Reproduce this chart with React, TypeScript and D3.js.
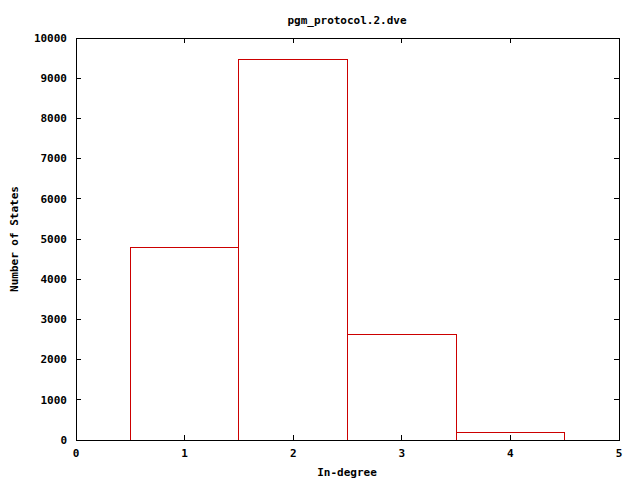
import React from "react";
import * as d3 from "d3";

const categories = [1, 2, 3, 4];
const counts = [4780, 9465, 2630, 190];
const xTicks = [0, 1, 2, 3, 4, 5];
const yTicks = [0, 1000, 2000, 3000, 4000, 5000, 6000, 7000, 8000, 9000, 10000];
const title = "pgm_protocol.2.dve";
const xLabel = "In-degree";
const yLabel = "Number of States";

export default function App() {
  const W = 640, H = 480;
  const L = 76, R = 619, T = 38, B = 440;
  const x = d3.scaleLinear().domain([0, 5]).range([L, R]);
  const y = d3.scaleLinear().domain([0, 10000]).range([B, T]);
  const font = "'DejaVu Sans Mono', 'Liberation Mono', monospace";
  const tl = 5;
  return (
    <svg width={W} height={H} style={{ position: "absolute", left: 0, top: 0, background: "#fff" }}
      fontFamily={font} fontSize={11} fontWeight="bold">
      <rect x={0} y={0} width={W} height={H} fill="#fff" />
      {categories.map((c, i) => (
        <rect key={c} x={x(c - 0.5)} y={y(counts[i])} width={x(c + 0.5) - x(c - 0.5)}
          height={B - y(counts[i])} fill="none" stroke="#cc0000" strokeWidth={1}
          shapeRendering="crispEdges" />
      ))}
      <g stroke="#000" strokeWidth={1} shapeRendering="crispEdges">
        {yTicks.map((t) => (
          <g key={t}>
            <line x1={L} x2={L + tl} y1={y(t)} y2={y(t)} />
            <line x1={R} x2={R - tl} y1={y(t)} y2={y(t)} />
          </g>
        ))}
        {xTicks.map((t) => (
          <g key={t}>
            <line x1={x(t)} x2={x(t)} y1={B} y2={B - tl} />
            <line x1={x(t)} x2={x(t)} y1={T} y2={T + tl} />
          </g>
        ))}
        <rect x={L} y={T} width={R - L} height={B - T} fill="none" />
      </g>
      {yTicks.map((t) => (
        <text key={t} x={L - 9} y={y(t)} dy="0.35em" textAnchor="end">{t}</text>
      ))}
      {xTicks.map((t) => (
        <text key={t} x={x(t)} y={B + 17} textAnchor="middle">{t}</text>
      ))}
      <text x={347} y={24} textAnchor="middle">{title}</text>
      <text x={347} y={476} textAnchor="middle">{xLabel}</text>
      <text transform={`translate(18,${(T + B) / 2}) rotate(-90)`} textAnchor="middle">{yLabel}</text>
    </svg>
  );
}
